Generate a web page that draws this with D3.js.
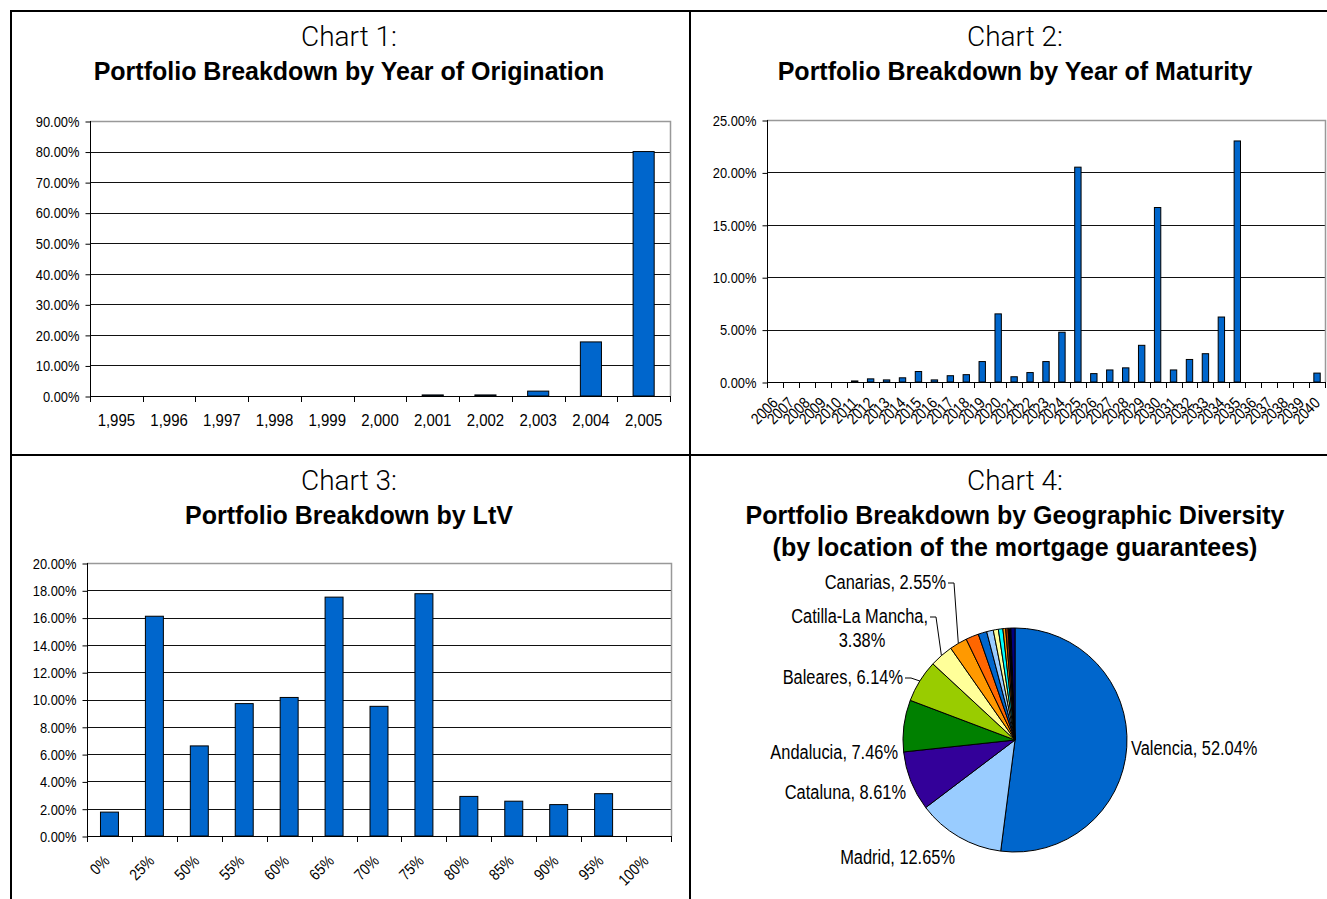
<!DOCTYPE html>
<html>
<head>
<meta charset="utf-8">
<script src="https://cdn.jsdelivr.net/npm/d3@7/dist/d3.min.js"></script>
<style>
  body { margin: 0; background: #fff; }
</style>
</head>
<body>
<svg id="page" width="1327" height="899"></svg>
<script>
/*   Chart 1 : year of origination   */
var origYears = ["1,995", "1,996", "1,997", "1,998", "1,999", "2,000", "2,001", "2,002", "2,003", "2,004", "2,005"];
var origShare = [0, 0, 0, 0, 0, 0, 0.0035, 0.0035, 0.016, 0.177, 0.80];
var origTicks = [0, 0.1, 0.2, 0.3, 0.4, 0.5, 0.6, 0.7, 0.8, 0.9];

/*   Chart 2 : year of maturity   */
var matYears = ["2006", "2007", "2008", "2009", "2010", "2011", "2012", "2013", "2014", "2015",
  "2016", "2017", "2018", "2019", "2020", "2021", "2022", "2023", "2024", "2025",
  "2026", "2027", "2028", "2029", "2030", "2031", "2032", "2033", "2034", "2035",
  "2036", "2037", "2038", "2039", "2040"];
var matShare = [0, 0, 0, 0, 0, 0.001, 0.003, 0.002, 0.004, 0.010,
  0.002, 0.006, 0.007, 0.0195, 0.065, 0.005, 0.009, 0.0195, 0.0475, 0.205,
  0.008, 0.0115, 0.0135, 0.035, 0.1665, 0.0115, 0.0215, 0.027, 0.062, 0.230,
  0, 0, 0, 0, 0.0085];
var matTicks = [0, 0.05, 0.10, 0.15, 0.20, 0.25];

/*   Chart 3 : LtV   */
var ltvBuckets = ["0%", "25%", "50%", "55%", "60%", "65%", "70%", "75%", "80%", "85%", "90%", "95%", "100%"];
var ltvShare = [0.0175, 0.161, 0.066, 0.097, 0.1015, 0.175, 0.095, 0.1775, 0.029, 0.0255, 0.023, 0.031, 0];
var ltvTicks = [0, 0.02, 0.04, 0.06, 0.08, 0.10, 0.12, 0.14, 0.16, 0.18, 0.20];

/*   Chart 4 : geography   */
var regions = ["Valencia", "Madrid", "Cataluna", "Andalucia", "Baleares", "Catilla-La Mancha", "Canarias",
  "Other 1", "Other 2", "Other 3", "Other 4", "Other 5", "Other 6", "Other 7", "Other 8", "Other 9"];
var regionShare = [52.04, 12.65, 8.61, 7.46, 6.14, 3.38, 2.55,
  1.86, 1.24, 0.96, 0.73, 0.65, 0.40, 0.35, 0.40, 0.58];
var regionColors = ["#0066cc", "#99ccff", "#330099", "#008000", "#99cc00", "#ffff99", "#ff9900",
  "#ff6600", "#0066cc", "#99ccff", "#ffff99", "#00ffff", "#ff9900", "#993300", "#000000", "#000080"];

var SANS = "'Liberation Sans',Arial,sans-serif";
var LIGHT = "Roboto,'Open Sans',sans-serif";
var BAR_BLUE = "#0066cc";
var SQUEEZE = 0.86;   // no narrow font installed: squeeze Arial-metric text

var svg = d3.select("#page");

// fake a condensed face by squeezing glyphs horizontally
function narrow(sel, k) {
  sel.each(function() {
    var w = this.getComputedTextLength();
    d3.select(this).attr("textLength", w * (k || SQUEEZE)).attr("lengthAdjust", "spacingAndGlyphs");
  });
}

// page frame
var frame = svg.append("g").attr("stroke", "#000").attr("stroke-width", 2);
frame.append("line").attr("x1", 10).attr("x2", 1327).attr("y1", 11).attr("y2", 11);
frame.append("line").attr("x1", 11).attr("x2", 11).attr("y1", 10).attr("y2", 899);
frame.append("line").attr("x1", 690).attr("x2", 690).attr("y1", 11).attr("y2", 899);
frame.append("line").attr("x1", 11).attr("x2", 1327).attr("y1", 455).attr("y2", 455);

function addTitle(cx, y, lines) {
  lines.forEach(function(t, i) {
    svg.append("text")
      .attr("x", cx)
      .attr("y", y + (i === 0 ? 0 : 34 + (i - 1) * 32))
      .attr("text-anchor", "middle")
      .style("font-family", i === 0 ? LIGHT : SANS)
      .style("font-weight", i === 0 ? 300 : 700)
      .style("font-size", i === 0 ? "28px" : "25px")
      .attr("fill", "#000")
      .text(t);
  });
}

addTitle(349, 46, ["Chart 1:", "Portfolio Breakdown by Year of Origination"]);
addTitle(1015, 46, ["Chart 2:", "Portfolio Breakdown by Year of Maturity"]);
addTitle(349, 490, ["Chart 3:", "Portfolio Breakdown by LtV"]);
addTitle(1015, 490, ["Chart 4:", "Portfolio Breakdown by Geographic Diversity", "(by location of the mortgage guarantees)"]);

function barChart(box, cats, vals, ticks, opts) {
  var g = svg.append("g");
  var x = d3.scaleBand().domain(cats).range([box.x0, box.x1]);
  var y = d3.scaleLinear().domain([0, ticks[ticks.length - 1]]).range([box.y1, box.y0]);
  var bw = x.bandwidth();

  // grid lines
  g.selectAll(".grid")
    .data(ticks.slice(1, -1))
    .enter().append("line")
    .attr("x1", box.x0).attr("x2", box.x1)
    .attr("y1", function(d) { return Math.round(y(d)) + 0.5; })
    .attr("y2", function(d) { return Math.round(y(d)) + 0.5; })
    .attr("stroke", "#111").attr("stroke-width", 1);

  // plot area top / right border
  g.append("path")
    .attr("d", "M" + box.x0 + "," + (box.y0 + 0.5) + "H" + (box.x1 + 0.5) + "V" + box.y1)
    .attr("fill", "none").attr("stroke", "#999").attr("stroke-width", 1.5);

  // bars
  g.selectAll(".bar")
    .data(cats)
    .enter().append("rect")
    .attr("x", function(d) { return x(d) + bw * 0.3; })
    .attr("width", bw * 0.4)
    .attr("y", function(d, i) { return y(vals[i]); })
    .attr("height", function(d, i) { return box.y1 - y(vals[i]); })
    .attr("fill", BAR_BLUE)
    .attr("stroke", "#000").attr("stroke-width", 1);

  // y axis
  var yAxis = d3.axisLeft(y).tickValues(ticks).tickFormat(d3.format(".2%")).tickSize(5).tickPadding(6);
  var ya = g.append("g").attr("transform", "translate(" + (box.x0 + 0.5) + ",0.5)").call(yAxis);
  ya.select(".domain").remove();
  ya.selectAll("text").attr("font-family", null).attr("font-size", null)
    .style("font-family", SANS).style("font-size", "15px").attr("fill", "#000");
  narrow(ya.selectAll("text"));
  ya.selectAll("line").attr("stroke", "#000");
  g.append("line").attr("x1", box.x0 + 0.5).attr("x2", box.x0 + 0.5)
    .attr("y1", box.y0).attr("y2", box.y1).attr("stroke", "#000");

  // x axis line + boundary ticks
  g.append("line").attr("x1", box.x0).attr("x2", box.x1)
    .attr("y1", box.y1 + 0.5).attr("y2", box.y1 + 0.5).attr("stroke", "#000");
  var edges = cats.map(function(d) { return x(d); }).concat([box.x1]);
  g.selectAll(".xt")
    .data(edges)
    .enter().append("line")
    .attr("x1", function(d) { return Math.round(d) + 0.5; })
    .attr("x2", function(d) { return Math.round(d) + 0.5; })
    .attr("y1", box.y1).attr("y2", box.y1 + 6)
    .attr("stroke", "#000");

  // x labels
  var lab = g.selectAll(".xl")
    .data(cats)
    .enter().append("text")
    .style("font-family", SANS)
    .style("font-size", opts.labelSize + "px")
    .attr("fill", "#000")
    .text(function(d) { return d; });
  if (opts.rotate) {
    lab.attr("text-anchor", "end")
      .attr("dy", "0.35em")
      .attr("transform", function(d) {
        return "translate(" + (x(d) + bw / 2 + opts.dx) + "," + (box.y1 + opts.dy) + ") rotate(-45)";
      });
  } else {
    lab.attr("text-anchor", "middle")
      .attr("x", function(d) { return x(d) + bw / 2; })
      .attr("y", box.y1 + opts.dy);
  }
  narrow(lab, opts.squeeze);
}

barChart({x0: 90, x1: 670, y0: 121, y1: 396}, origYears, origShare, origTicks, {labelSize: 17, dy: 30, squeeze: 0.88});
barChart({x0: 767, x1: 1325, y0: 120, y1: 382}, matYears, matShare, matTicks, {labelSize: 16, rotate: true, dx: 0, dy: 18, squeeze: 0.85});
barChart({x0: 87, x1: 671, y0: 563, y1: 836}, ltvBuckets, ltvShare, ltvTicks, {labelSize: 16, rotate: true, dx: -3, dy: 22, squeeze: 0.85});

/*   pie   */
var cx = 1015, cy = 740, R = 112;
var pie = d3.pie().sort(null).value(function(d) { return d; });
var arcs = pie(regionShare);
var arc = d3.arc().innerRadius(0).outerRadius(R);
var pg = svg.append("g").attr("transform", "translate(" + cx + "," + cy + ")");
pg.selectAll("path")
  .data(arcs)
  .enter().append("path")
  .attr("d", arc)
  .attr("fill", function(d, i) { return regionColors[i]; })
  .attr("stroke", "#000").attr("stroke-width", 1);

// label placement (offsets from pie centre, text baseline), Excel style
var labelPlace = {
  "Valencia": {dx: 116, dy: 15, anchor: "start"},
  "Madrid": {dx: -60, dy: 124, anchor: "end"},
  "Cataluna": {dx: -109, dy: 59, anchor: "end"},
  "Andalucia": {dx: -117, dy: 19, anchor: "end"},
  "Baleares": {dx: -112, dy: -56, anchor: "end", leader: true},
  "Catilla-La Mancha": {dx: -87, dy: -117, anchor: "end", leader: true, wrap: true},
  "Canarias": {dx: -69, dy: -151, anchor: "end", leader: true}
};

function pieText(x, y, anchor, s) {
  var t = pg.append("text")
    .attr("x", x).attr("y", y)
    .attr("text-anchor", anchor)
    .style("font-family", SANS)
    .style("font-size", "20px")
    .attr("fill", "#000")
    .text(s);
  narrow(t, 0.82);
  return t;
}

arcs.forEach(function(a, i) {
  var name = regions[i];
  var p = labelPlace[name];
  if (!p) return;
  var pct = regionShare[i].toFixed(2) + "%";
  if (p.wrap) {
    pieText(p.dx, p.dy, "end", name + ",");
    pieText(p.dx - 66, p.dy + 24, "middle", pct);
  } else {
    pieText(p.dx, p.dy, p.anchor, name + ", " + pct);
  }
  if (p.leader) {
    var mid = (a.startAngle + a.endAngle) / 2;
    var ex = R * Math.sin(mid), ey = -R * Math.cos(mid);
    var ly = p.dy - 6;
    pg.append("polyline")
      .attr("points", [[p.dx + 2, ly], [p.dx + 8, ly], [ex, ey]].map(function(q) { return q.join(","); }).join(" "))
      .attr("fill", "none").attr("stroke", "#000").attr("stroke-width", 1);
  }
});
</script>
</body>
</html>
